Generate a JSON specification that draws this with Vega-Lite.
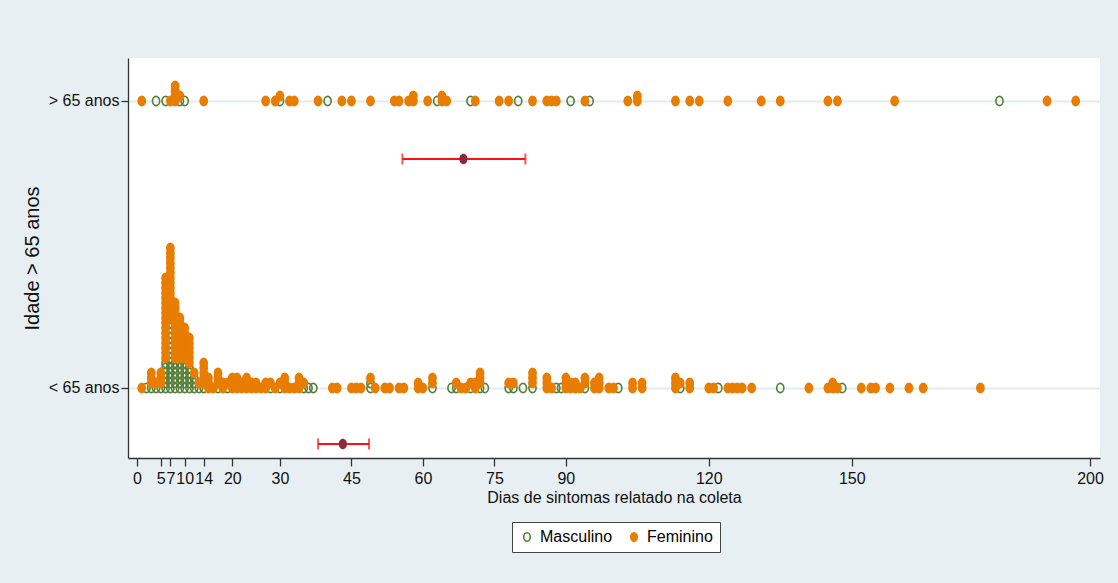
{
  "$schema": "https://vega.github.io/schema/vega-lite/v6.json",
  "width": 972,
  "height": 400,
  "autosize": {"type": "none"},
  "padding": {"left": 128, "top": 58, "right": 18, "bottom": 125},
  "background": "#e8eff2",
  "config": {
    "view": {"stroke": null, "fill": "white"},
    "font": "Liberation Sans",
    "axis": {"labelFont": "Liberation Sans", "titleFont": "Liberation Sans", "labelColor": "#111", "titleColor": "#111", "titleFontWeight": "normal", "domainColor": "#333", "tickColor": "#333", "domainWidth": 1.3, "tickWidth": 1.3},
    "legend": {"labelFont": "Liberation Sans"}
  },
  "datasets": {
    "pontos": [
      {"dias":1,"idade":">65","sexo":"Feminino"},
      {"dias":4,"idade":">65","sexo":"Masculino"},
      {"dias":6,"idade":">65","sexo":"Masculino"},
      {"dias":7,"idade":">65","sexo":"Feminino"},
      {"dias":8,"idade":">65","sexo":"Feminino"},
      {"dias":8,"idade":">65","sexo":"Feminino"},
      {"dias":8,"idade":">65","sexo":"Feminino"},
      {"dias":8,"idade":">65","sexo":"Feminino"},
      {"dias":9,"idade":">65","sexo":"Masculino"},
      {"dias":9,"idade":">65","sexo":"Feminino"},
      {"dias":10,"idade":">65","sexo":"Masculino"},
      {"dias":14,"idade":">65","sexo":"Feminino"},
      {"dias":27,"idade":">65","sexo":"Feminino"},
      {"dias":29,"idade":">65","sexo":"Feminino"},
      {"dias":30,"idade":">65","sexo":"Masculino"},
      {"dias":30,"idade":">65","sexo":"Feminino"},
      {"dias":32,"idade":">65","sexo":"Feminino"},
      {"dias":33,"idade":">65","sexo":"Feminino"},
      {"dias":38,"idade":">65","sexo":"Feminino"},
      {"dias":40,"idade":">65","sexo":"Masculino"},
      {"dias":43,"idade":">65","sexo":"Feminino"},
      {"dias":45,"idade":">65","sexo":"Feminino"},
      {"dias":49,"idade":">65","sexo":"Feminino"},
      {"dias":54,"idade":">65","sexo":"Feminino"},
      {"dias":55,"idade":">65","sexo":"Feminino"},
      {"dias":57,"idade":">65","sexo":"Feminino"},
      {"dias":58,"idade":">65","sexo":"Feminino"},
      {"dias":58,"idade":">65","sexo":"Feminino"},
      {"dias":61,"idade":">65","sexo":"Feminino"},
      {"dias":63,"idade":">65","sexo":"Masculino"},
      {"dias":64,"idade":">65","sexo":"Feminino"},
      {"dias":64,"idade":">65","sexo":"Feminino"},
      {"dias":65,"idade":">65","sexo":"Feminino"},
      {"dias":70,"idade":">65","sexo":"Masculino"},
      {"dias":71,"idade":">65","sexo":"Feminino"},
      {"dias":76,"idade":">65","sexo":"Feminino"},
      {"dias":78,"idade":">65","sexo":"Feminino"},
      {"dias":80,"idade":">65","sexo":"Masculino"},
      {"dias":83,"idade":">65","sexo":"Feminino"},
      {"dias":86,"idade":">65","sexo":"Feminino"},
      {"dias":87,"idade":">65","sexo":"Feminino"},
      {"dias":88,"idade":">65","sexo":"Feminino"},
      {"dias":91,"idade":">65","sexo":"Masculino"},
      {"dias":94,"idade":">65","sexo":"Feminino"},
      {"dias":95,"idade":">65","sexo":"Masculino"},
      {"dias":103,"idade":">65","sexo":"Feminino"},
      {"dias":105,"idade":">65","sexo":"Feminino"},
      {"dias":105,"idade":">65","sexo":"Feminino"},
      {"dias":113,"idade":">65","sexo":"Feminino"},
      {"dias":116,"idade":">65","sexo":"Feminino"},
      {"dias":118,"idade":">65","sexo":"Feminino"},
      {"dias":124,"idade":">65","sexo":"Feminino"},
      {"dias":131,"idade":">65","sexo":"Feminino"},
      {"dias":135,"idade":">65","sexo":"Feminino"},
      {"dias":145,"idade":">65","sexo":"Feminino"},
      {"dias":147,"idade":">65","sexo":"Feminino"},
      {"dias":159,"idade":">65","sexo":"Feminino"},
      {"dias":181,"idade":">65","sexo":"Masculino"},
      {"dias":191,"idade":">65","sexo":"Feminino"},
      {"dias":197,"idade":">65","sexo":"Feminino"},

      {"dias":1,"idade":"<65","sexo":"Feminino"},
      {"dias":2,"idade":"<65","sexo":"Masculino"},
      {"dias":3,"idade":"<65","sexo":"Masculino"},
      {"dias":3,"idade":"<65","sexo":"Feminino"},
      {"dias":3,"idade":"<65","sexo":"Feminino"},
      {"dias":3,"idade":"<65","sexo":"Feminino"},
      {"dias":4,"idade":"<65","sexo":"Masculino"},
      {"dias":4,"idade":"<65","sexo":"Feminino"},
      {"dias":5,"idade":"<65","sexo":"Masculino"},
      {"dias":5,"idade":"<65","sexo":"Feminino"},
      {"dias":5,"idade":"<65","sexo":"Feminino"},
      {"dias":5,"idade":"<65","sexo":"Feminino"},
      {"dias":6,"idade":"<65","sexo":"Masculino"},
      {"dias":6,"idade":"<65","sexo":"Masculino"},
      {"dias":6,"idade":"<65","sexo":"Masculino"},
      {"dias":6,"idade":"<65","sexo":"Masculino"},
      {"dias":6,"idade":"<65","sexo":"Masculino"},
      {"dias":6,"idade":"<65","sexo":"Masculino"},
      {"dias":6,"idade":"<65","sexo":"Feminino"},
      {"dias":6,"idade":"<65","sexo":"Feminino"},
      {"dias":6,"idade":"<65","sexo":"Feminino"},
      {"dias":6,"idade":"<65","sexo":"Feminino"},
      {"dias":6,"idade":"<65","sexo":"Feminino"},
      {"dias":6,"idade":"<65","sexo":"Feminino"},
      {"dias":6,"idade":"<65","sexo":"Feminino"},
      {"dias":6,"idade":"<65","sexo":"Feminino"},
      {"dias":6,"idade":"<65","sexo":"Feminino"},
      {"dias":6,"idade":"<65","sexo":"Feminino"},
      {"dias":6,"idade":"<65","sexo":"Feminino"},
      {"dias":6,"idade":"<65","sexo":"Feminino"},
      {"dias":6,"idade":"<65","sexo":"Feminino"},
      {"dias":6,"idade":"<65","sexo":"Feminino"},
      {"dias":6,"idade":"<65","sexo":"Feminino"},
      {"dias":6,"idade":"<65","sexo":"Feminino"},
      {"dias":6,"idade":"<65","sexo":"Feminino"},
      {"dias":7,"idade":"<65","sexo":"Masculino"},
      {"dias":7,"idade":"<65","sexo":"Masculino"},
      {"dias":7,"idade":"<65","sexo":"Masculino"},
      {"dias":7,"idade":"<65","sexo":"Masculino"},
      {"dias":7,"idade":"<65","sexo":"Masculino"},
      {"dias":7,"idade":"<65","sexo":"Masculino"},
      {"dias":7,"idade":"<65","sexo":"Masculino"},
      {"dias":7,"idade":"<65","sexo":"Masculino"},
      {"dias":7,"idade":"<65","sexo":"Masculino"},
      {"dias":7,"idade":"<65","sexo":"Masculino"},
      {"dias":7,"idade":"<65","sexo":"Masculino"},
      {"dias":7,"idade":"<65","sexo":"Masculino"},
      {"dias":7,"idade":"<65","sexo":"Masculino"},
      {"dias":7,"idade":"<65","sexo":"Masculino"},
      {"dias":7,"idade":"<65","sexo":"Feminino"},
      {"dias":7,"idade":"<65","sexo":"Feminino"},
      {"dias":7,"idade":"<65","sexo":"Feminino"},
      {"dias":7,"idade":"<65","sexo":"Feminino"},
      {"dias":7,"idade":"<65","sexo":"Feminino"},
      {"dias":7,"idade":"<65","sexo":"Feminino"},
      {"dias":7,"idade":"<65","sexo":"Feminino"},
      {"dias":7,"idade":"<65","sexo":"Feminino"},
      {"dias":7,"idade":"<65","sexo":"Feminino"},
      {"dias":7,"idade":"<65","sexo":"Feminino"},
      {"dias":7,"idade":"<65","sexo":"Feminino"},
      {"dias":7,"idade":"<65","sexo":"Feminino"},
      {"dias":7,"idade":"<65","sexo":"Feminino"},
      {"dias":7,"idade":"<65","sexo":"Feminino"},
      {"dias":7,"idade":"<65","sexo":"Feminino"},
      {"dias":8,"idade":"<65","sexo":"Masculino"},
      {"dias":8,"idade":"<65","sexo":"Masculino"},
      {"dias":8,"idade":"<65","sexo":"Masculino"},
      {"dias":8,"idade":"<65","sexo":"Masculino"},
      {"dias":8,"idade":"<65","sexo":"Masculino"},
      {"dias":8,"idade":"<65","sexo":"Masculino"},
      {"dias":8,"idade":"<65","sexo":"Feminino"},
      {"dias":8,"idade":"<65","sexo":"Feminino"},
      {"dias":8,"idade":"<65","sexo":"Feminino"},
      {"dias":8,"idade":"<65","sexo":"Feminino"},
      {"dias":8,"idade":"<65","sexo":"Feminino"},
      {"dias":8,"idade":"<65","sexo":"Feminino"},
      {"dias":8,"idade":"<65","sexo":"Feminino"},
      {"dias":8,"idade":"<65","sexo":"Feminino"},
      {"dias":8,"idade":"<65","sexo":"Feminino"},
      {"dias":8,"idade":"<65","sexo":"Feminino"},
      {"dias":8,"idade":"<65","sexo":"Feminino"},
      {"dias":8,"idade":"<65","sexo":"Feminino"},
      {"dias":9,"idade":"<65","sexo":"Masculino"},
      {"dias":9,"idade":"<65","sexo":"Masculino"},
      {"dias":9,"idade":"<65","sexo":"Masculino"},
      {"dias":9,"idade":"<65","sexo":"Masculino"},
      {"dias":9,"idade":"<65","sexo":"Masculino"},
      {"dias":9,"idade":"<65","sexo":"Masculino"},
      {"dias":9,"idade":"<65","sexo":"Feminino"},
      {"dias":9,"idade":"<65","sexo":"Feminino"},
      {"dias":9,"idade":"<65","sexo":"Feminino"},
      {"dias":9,"idade":"<65","sexo":"Feminino"},
      {"dias":9,"idade":"<65","sexo":"Feminino"},
      {"dias":9,"idade":"<65","sexo":"Feminino"},
      {"dias":9,"idade":"<65","sexo":"Feminino"},
      {"dias":9,"idade":"<65","sexo":"Feminino"},
      {"dias":9,"idade":"<65","sexo":"Feminino"},
      {"dias":10,"idade":"<65","sexo":"Masculino"},
      {"dias":10,"idade":"<65","sexo":"Masculino"},
      {"dias":10,"idade":"<65","sexo":"Masculino"},
      {"dias":10,"idade":"<65","sexo":"Masculino"},
      {"dias":10,"idade":"<65","sexo":"Masculino"},
      {"dias":10,"idade":"<65","sexo":"Masculino"},
      {"dias":10,"idade":"<65","sexo":"Feminino"},
      {"dias":10,"idade":"<65","sexo":"Feminino"},
      {"dias":10,"idade":"<65","sexo":"Feminino"},
      {"dias":10,"idade":"<65","sexo":"Feminino"},
      {"dias":10,"idade":"<65","sexo":"Feminino"},
      {"dias":10,"idade":"<65","sexo":"Feminino"},
      {"dias":10,"idade":"<65","sexo":"Feminino"},
      {"dias":11,"idade":"<65","sexo":"Masculino"},
      {"dias":11,"idade":"<65","sexo":"Masculino"},
      {"dias":11,"idade":"<65","sexo":"Masculino"},
      {"dias":11,"idade":"<65","sexo":"Masculino"},
      {"dias":11,"idade":"<65","sexo":"Masculino"},
      {"dias":11,"idade":"<65","sexo":"Feminino"},
      {"dias":11,"idade":"<65","sexo":"Feminino"},
      {"dias":11,"idade":"<65","sexo":"Feminino"},
      {"dias":11,"idade":"<65","sexo":"Feminino"},
      {"dias":11,"idade":"<65","sexo":"Feminino"},
      {"dias":11,"idade":"<65","sexo":"Feminino"},
      {"dias":12,"idade":"<65","sexo":"Masculino"},
      {"dias":12,"idade":"<65","sexo":"Masculino"},
      {"dias":12,"idade":"<65","sexo":"Masculino"},
      {"dias":12,"idade":"<65","sexo":"Feminino"},
      {"dias":13,"idade":"<65","sexo":"Masculino"},
      {"dias":13,"idade":"<65","sexo":"Feminino"},
      {"dias":14,"idade":"<65","sexo":"Masculino"},
      {"dias":14,"idade":"<65","sexo":"Feminino"},
      {"dias":14,"idade":"<65","sexo":"Feminino"},
      {"dias":14,"idade":"<65","sexo":"Feminino"},
      {"dias":14,"idade":"<65","sexo":"Feminino"},
      {"dias":14,"idade":"<65","sexo":"Feminino"},
      {"dias":15,"idade":"<65","sexo":"Feminino"},
      {"dias":15,"idade":"<65","sexo":"Feminino"},
      {"dias":15,"idade":"<65","sexo":"Feminino"},
      {"dias":16,"idade":"<65","sexo":"Feminino"},
      {"dias":17,"idade":"<65","sexo":"Masculino"},
      {"dias":17,"idade":"<65","sexo":"Feminino"},
      {"dias":17,"idade":"<65","sexo":"Feminino"},
      {"dias":17,"idade":"<65","sexo":"Feminino"},
      {"dias":18,"idade":"<65","sexo":"Feminino"},
      {"dias":18,"idade":"<65","sexo":"Feminino"},
      {"dias":19,"idade":"<65","sexo":"Masculino"},
      {"dias":19,"idade":"<65","sexo":"Feminino"},
      {"dias":20,"idade":"<65","sexo":"Feminino"},
      {"dias":20,"idade":"<65","sexo":"Feminino"},
      {"dias":20,"idade":"<65","sexo":"Feminino"},
      {"dias":21,"idade":"<65","sexo":"Feminino"},
      {"dias":21,"idade":"<65","sexo":"Feminino"},
      {"dias":21,"idade":"<65","sexo":"Feminino"},
      {"dias":22,"idade":"<65","sexo":"Feminino"},
      {"dias":22,"idade":"<65","sexo":"Feminino"},
      {"dias":23,"idade":"<65","sexo":"Feminino"},
      {"dias":23,"idade":"<65","sexo":"Feminino"},
      {"dias":23,"idade":"<65","sexo":"Feminino"},
      {"dias":24,"idade":"<65","sexo":"Feminino"},
      {"dias":24,"idade":"<65","sexo":"Feminino"},
      {"dias":25,"idade":"<65","sexo":"Feminino"},
      {"dias":25,"idade":"<65","sexo":"Feminino"},
      {"dias":26,"idade":"<65","sexo":"Feminino"},
      {"dias":27,"idade":"<65","sexo":"Feminino"},
      {"dias":27,"idade":"<65","sexo":"Feminino"},
      {"dias":28,"idade":"<65","sexo":"Masculino"},
      {"dias":28,"idade":"<65","sexo":"Feminino"},
      {"dias":29,"idade":"<65","sexo":"Feminino"},
      {"dias":30,"idade":"<65","sexo":"Masculino"},
      {"dias":30,"idade":"<65","sexo":"Feminino"},
      {"dias":31,"idade":"<65","sexo":"Feminino"},
      {"dias":31,"idade":"<65","sexo":"Feminino"},
      {"dias":31,"idade":"<65","sexo":"Feminino"},
      {"dias":32,"idade":"<65","sexo":"Feminino"},
      {"dias":33,"idade":"<65","sexo":"Feminino"},
      {"dias":34,"idade":"<65","sexo":"Feminino"},
      {"dias":34,"idade":"<65","sexo":"Feminino"},
      {"dias":34,"idade":"<65","sexo":"Feminino"},
      {"dias":35,"idade":"<65","sexo":"Masculino"},
      {"dias":35,"idade":"<65","sexo":"Feminino"},
      {"dias":36,"idade":"<65","sexo":"Masculino"},
      {"dias":37,"idade":"<65","sexo":"Masculino"},
      {"dias":41,"idade":"<65","sexo":"Feminino"},
      {"dias":42,"idade":"<65","sexo":"Feminino"},
      {"dias":45,"idade":"<65","sexo":"Feminino"},
      {"dias":46,"idade":"<65","sexo":"Feminino"},
      {"dias":47,"idade":"<65","sexo":"Feminino"},
      {"dias":49,"idade":"<65","sexo":"Masculino"},
      {"dias":49,"idade":"<65","sexo":"Masculino"},
      {"dias":49,"idade":"<65","sexo":"Feminino"},
      {"dias":50,"idade":"<65","sexo":"Feminino"},
      {"dias":52,"idade":"<65","sexo":"Feminino"},
      {"dias":53,"idade":"<65","sexo":"Feminino"},
      {"dias":55,"idade":"<65","sexo":"Feminino"},
      {"dias":56,"idade":"<65","sexo":"Feminino"},
      {"dias":59,"idade":"<65","sexo":"Feminino"},
      {"dias":59,"idade":"<65","sexo":"Feminino"},
      {"dias":60,"idade":"<65","sexo":"Feminino"},
      {"dias":62,"idade":"<65","sexo":"Masculino"},
      {"dias":62,"idade":"<65","sexo":"Feminino"},
      {"dias":62,"idade":"<65","sexo":"Feminino"},
      {"dias":66,"idade":"<65","sexo":"Masculino"},
      {"dias":67,"idade":"<65","sexo":"Masculino"},
      {"dias":67,"idade":"<65","sexo":"Feminino"},
      {"dias":68,"idade":"<65","sexo":"Feminino"},
      {"dias":69,"idade":"<65","sexo":"Feminino"},
      {"dias":70,"idade":"<65","sexo":"Masculino"},
      {"dias":70,"idade":"<65","sexo":"Feminino"},
      {"dias":71,"idade":"<65","sexo":"Feminino"},
      {"dias":71,"idade":"<65","sexo":"Feminino"},
      {"dias":72,"idade":"<65","sexo":"Masculino"},
      {"dias":72,"idade":"<65","sexo":"Feminino"},
      {"dias":72,"idade":"<65","sexo":"Feminino"},
      {"dias":72,"idade":"<65","sexo":"Feminino"},
      {"dias":73,"idade":"<65","sexo":"Masculino"},
      {"dias":78,"idade":"<65","sexo":"Masculino"},
      {"dias":78,"idade":"<65","sexo":"Feminino"},
      {"dias":79,"idade":"<65","sexo":"Masculino"},
      {"dias":79,"idade":"<65","sexo":"Feminino"},
      {"dias":81,"idade":"<65","sexo":"Masculino"},
      {"dias":83,"idade":"<65","sexo":"Masculino"},
      {"dias":83,"idade":"<65","sexo":"Feminino"},
      {"dias":83,"idade":"<65","sexo":"Feminino"},
      {"dias":83,"idade":"<65","sexo":"Feminino"},
      {"dias":86,"idade":"<65","sexo":"Feminino"},
      {"dias":86,"idade":"<65","sexo":"Feminino"},
      {"dias":86,"idade":"<65","sexo":"Feminino"},
      {"dias":87,"idade":"<65","sexo":"Feminino"},
      {"dias":88,"idade":"<65","sexo":"Masculino"},
      {"dias":89,"idade":"<65","sexo":"Masculino"},
      {"dias":90,"idade":"<65","sexo":"Feminino"},
      {"dias":90,"idade":"<65","sexo":"Feminino"},
      {"dias":90,"idade":"<65","sexo":"Feminino"},
      {"dias":91,"idade":"<65","sexo":"Feminino"},
      {"dias":91,"idade":"<65","sexo":"Feminino"},
      {"dias":92,"idade":"<65","sexo":"Feminino"},
      {"dias":92,"idade":"<65","sexo":"Feminino"},
      {"dias":93,"idade":"<65","sexo":"Feminino"},
      {"dias":94,"idade":"<65","sexo":"Masculino"},
      {"dias":94,"idade":"<65","sexo":"Feminino"},
      {"dias":94,"idade":"<65","sexo":"Feminino"},
      {"dias":96,"idade":"<65","sexo":"Feminino"},
      {"dias":96,"idade":"<65","sexo":"Feminino"},
      {"dias":97,"idade":"<65","sexo":"Feminino"},
      {"dias":97,"idade":"<65","sexo":"Feminino"},
      {"dias":97,"idade":"<65","sexo":"Feminino"},
      {"dias":99,"idade":"<65","sexo":"Feminino"},
      {"dias":100,"idade":"<65","sexo":"Feminino"},
      {"dias":101,"idade":"<65","sexo":"Masculino"},
      {"dias":104,"idade":"<65","sexo":"Feminino"},
      {"dias":104,"idade":"<65","sexo":"Feminino"},
      {"dias":106,"idade":"<65","sexo":"Feminino"},
      {"dias":106,"idade":"<65","sexo":"Feminino"},
      {"dias":113,"idade":"<65","sexo":"Feminino"},
      {"dias":113,"idade":"<65","sexo":"Feminino"},
      {"dias":113,"idade":"<65","sexo":"Feminino"},
      {"dias":114,"idade":"<65","sexo":"Masculino"},
      {"dias":114,"idade":"<65","sexo":"Feminino"},
      {"dias":116,"idade":"<65","sexo":"Feminino"},
      {"dias":116,"idade":"<65","sexo":"Feminino"},
      {"dias":120,"idade":"<65","sexo":"Feminino"},
      {"dias":121,"idade":"<65","sexo":"Feminino"},
      {"dias":122,"idade":"<65","sexo":"Masculino"},
      {"dias":124,"idade":"<65","sexo":"Feminino"},
      {"dias":125,"idade":"<65","sexo":"Feminino"},
      {"dias":126,"idade":"<65","sexo":"Feminino"},
      {"dias":127,"idade":"<65","sexo":"Feminino"},
      {"dias":129,"idade":"<65","sexo":"Feminino"},
      {"dias":135,"idade":"<65","sexo":"Masculino"},
      {"dias":141,"idade":"<65","sexo":"Feminino"},
      {"dias":145,"idade":"<65","sexo":"Feminino"},
      {"dias":146,"idade":"<65","sexo":"Feminino"},
      {"dias":146,"idade":"<65","sexo":"Feminino"},
      {"dias":147,"idade":"<65","sexo":"Feminino"},
      {"dias":148,"idade":"<65","sexo":"Masculino"},
      {"dias":152,"idade":"<65","sexo":"Feminino"},
      {"dias":154,"idade":"<65","sexo":"Feminino"},
      {"dias":155,"idade":"<65","sexo":"Feminino"},
      {"dias":158,"idade":"<65","sexo":"Feminino"},
      {"dias":162,"idade":"<65","sexo":"Feminino"},
      {"dias":165,"idade":"<65","sexo":"Feminino"},
      {"dias":177,"idade":"<65","sexo":"Feminino"}
    ],
    "ic": [
      {"idade":">65","inferior":55.7,"media":68.5,"superior":81.5},
      {"idade":"<65","inferior":38.0,"media":43.2,"superior":48.7}
    ]
  },
  "layer": [
    {
      "data": {"name": "pontos"},
      "transform": [
        {"window": [{"op": "row_number", "as": "nivel"}], "groupby": ["idade", "dias"], "sort": [{"field": "sexo", "order": "descending"}]},
        {"calculate": "(datum.idade == '>65' ? 1 : 0) + (datum.nivel - 1) * 0.01742", "as": "ypos"}
      ],
      "mark": {"type": "point", "shape": "M -0.78 0 A 0.78 1 0 1 1 0.78 0 A 0.78 1 0 1 1 -0.78 0 Z", "size": 85, "strokeWidth": 1.6, "opacity": 1},
      "encoding": {
        "x": {
          "field": "dias", "type": "quantitative",
          "scale": {"domain": [-1.889, 202.1], "nice": false, "zero": false},
          "axis": {"title": "Dias de sintomas relatado na coleta", "values": [0,5,7,10,14,20,30,45,60,75,90,120,150,200], "grid": false, "tickSize": 8, "labelFontSize": 16, "labelOverlap": false, "labelFlush": false, "labelPadding": 4, "titleFontSize": 16, "titlePadding": 3}
        },
        "y": {
          "field": "ypos", "type": "quantitative",
          "scale": {"domain": [-0.2439, 1.1498], "nice": false, "zero": false},
          "axis": {"title": "Idade > 65 anos", "titleFontSize": 20, "titlePadding": 6, "values": [0, 1], "labelExpr": "datum.value == 1 ? '> 65 anos' : '< 65 anos'", "grid": true, "gridColor": "#e3ebee", "gridWidth": 2, "tickSize": 7, "labelFontSize": 16, "labelPadding": 2}
        },
        "stroke": {"field": "sexo", "type": "nominal", "scale": {"domain": ["Masculino", "Feminino"], "range": ["#55803a", "#e87d00"]}, "legend": {"title": null, "orient": "none", "legendX": 384, "legendY": 464, "direction": "horizontal", "fillColor": "white", "strokeColor": "#444", "padding": 7, "labelFontSize": 16, "symbolType": "M -0.78 0 A 0.78 1 0 1 1 0.78 0 A 0.78 1 0 1 1 -0.78 0 Z", "symbolSize": 70, "symbolStrokeWidth": 1.6, "columnPadding": 13, "labelOffset": 5}},
        "fill": {"field": "sexo", "type": "nominal", "scale": {"domain": ["Masculino", "Feminino"], "range": ["transparent", "#e87d00"]}, "legend": {"title": null, "orient": "none", "legendX": 384, "legendY": 464, "direction": "horizontal", "fillColor": "white", "strokeColor": "#444", "padding": 7, "labelFontSize": 16, "symbolType": "M -0.78 0 A 0.78 1 0 1 1 0.78 0 A 0.78 1 0 1 1 -0.78 0 Z", "symbolSize": 70, "symbolStrokeWidth": 1.6, "columnPadding": 13, "labelOffset": 5}},
        "order": {"field": "sexo", "sort": "descending"}
      }
    },
    {
      "data": {"name": "ic"},
      "transform": [{"calculate": "datum.idade == '>65' ? 0.798 : -0.195", "as": "ypos"}],
      "mark": {"type": "rule", "color": "#ff1010", "strokeWidth": 2},
      "encoding": {"x": {"field": "inferior", "type": "quantitative"}, "x2": {"field": "superior"}, "y": {"field": "ypos", "type": "quantitative"}}
    },
    {
      "data": {"name": "ic"},
      "transform": [{"calculate": "datum.idade == '>65' ? 0.798 : -0.195", "as": "ypos"}],
      "mark": {"type": "tick", "orient": "vertical", "color": "#ff1010", "size": 11, "thickness": 2},
      "encoding": {"x": {"field": "inferior", "type": "quantitative"}, "y": {"field": "ypos", "type": "quantitative"}}
    },
    {
      "data": {"name": "ic"},
      "transform": [{"calculate": "datum.idade == '>65' ? 0.798 : -0.195", "as": "ypos"}],
      "mark": {"type": "tick", "orient": "vertical", "color": "#ff1010", "size": 11, "thickness": 2},
      "encoding": {"x": {"field": "superior", "type": "quantitative"}, "y": {"field": "ypos", "type": "quantitative"}}
    },
    {
      "data": {"name": "ic"},
      "transform": [{"calculate": "datum.idade == '>65' ? 0.798 : -0.195", "as": "ypos"}],
      "mark": {"type": "point", "shape": "M -0.78 0 A 0.78 1 0 1 1 0.78 0 A 0.78 1 0 1 1 -0.78 0 Z", "size": 110, "filled": true, "color": "#8a2a3a", "opacity": 1},
      "encoding": {"x": {"field": "media", "type": "quantitative"}, "y": {"field": "ypos", "type": "quantitative"}}
    }
  ]
}
